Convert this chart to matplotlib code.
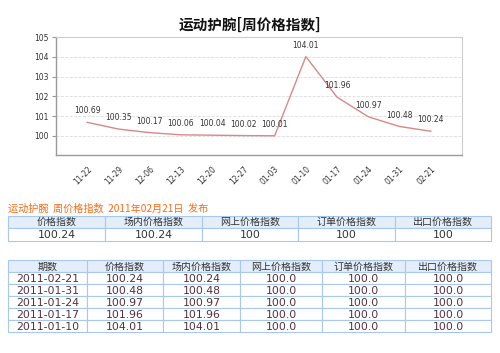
import matplotlib
matplotlib.use("Agg")
import matplotlib.pyplot as plt
from matplotlib.patches import Rectangle

plt.rcParams['font.family'] = ['Noto Sans CJK SC', 'DejaVu Sans']

title = "运动护腕[周价格指数]"
weeks = ["11-22", "11-29", "12-06", "12-13", "12-20", "12-27",
         "01-03", "01-10", "01-17", "01-24", "01-31", "02-21"]
index_values = [100.69, 100.35, 100.17, 100.06, 100.04, 100.02,
                100.01, 104.01, 101.96, 100.97, 100.48, 100.24]

notice = "运动护腕  周价格指数  2011年02月21日  发布"
summary_header = ["价格指数", "场内价格指数", "网上价格指数", "订单价格指数", "出口价格指数"]
summary_row = ["100.24", "100.24", "100", "100", "100"]

history_header = ["期数", "价格指数", "场内价格指数", "网上价格指数", "订单价格指数", "出口价格指数"]
history_dates = ["2011-02-21", "2011-01-31", "2011-01-24", "2011-01-17", "2011-01-10"]
history_price = ["100.24", "100.48", "100.97", "101.96", "104.01"]
history_onsite = ["100.24", "100.48", "100.97", "101.96", "104.01"]
history_online = ["100.0", "100.0", "100.0", "100.0", "100.0"]
history_order = ["100.0", "100.0", "100.0", "100.0", "100.0"]
history_export = ["100.0", "100.0", "100.0", "100.0", "100.0"]

W, H = 500, 353
fig = plt.figure(figsize=(W / 100, H / 100), dpi=100)
fig.patch.set_facecolor("white")

# chart area
ax = fig.add_axes([56 / W, 1 - 155 / H, 406 / W, 118 / H])
x = list(range(len(weeks)))
ax.plot(x, index_values, color="#d98888", lw=1.0)
for xi, v in zip(x, index_values):
    ax.annotate(f"{v:.2f}", (xi, v), xytext=(0, 5), textcoords="offset points",
                ha="center", va="bottom", fontsize=5.5, color="#333333",
                family="DejaVu Sans")
ax.set_xlim(-1, len(weeks))
ax.set_ylim(99.04, 105)
ax.set_yticks([100, 101, 102, 103, 104, 105])
ax.set_yticklabels([str(v) for v in range(100, 106)], family="DejaVu Sans")
ax.set_xticks(x)
ax.set_xticklabels(weeks, rotation=45, ha="right", rotation_mode="anchor",
                   family="DejaVu Sans")
ax.tick_params(axis="y", labelsize=5.5, length=3, colors="#999999", labelcolor="#333333", pad=2)
ax.tick_params(axis="x", labelsize=5.5, length=0, labelcolor="#333333", pad=7)
ax.grid(axis="y", color="#dddddd", ls="--", lw=0.6)
for side in ["top", "right"]:
    ax.spines[side].set_color("#cccccc")
for side in ["left", "bottom"]:
    ax.spines[side].set_color("#999999")
    ax.spines[side].set_linewidth(1.0)

fig.text(0.5, 1 - 25 / H, title, ha="center", va="center", fontsize=10.5,
         fontweight="bold", color="#111111")

# overlay for the tables, in pixel coords
ov = fig.add_axes([0, 0, 1, 1])
ov.set_xlim(0, W)
ov.set_ylim(H, 0)
ov.axis("off")
ov.patch.set_alpha(0)

border = "#a9c8ee"
head_bg = "#e4eefb"

ov.text(8, 209, notice, ha="left", va="center", fontsize=7.3, color="#ff6a13")


def draw_table(cols, rows, header, body, body_color):
    for i in range(len(rows) - 1):
        y0, y1 = rows[i], rows[i + 1]
        for j in range(len(cols) - 1):
            x0, x1 = cols[j], cols[j + 1]
            fc = head_bg if i == 0 else "white"
            ov.add_patch(Rectangle((x0, y0), x1 - x0, y1 - y0, facecolor=fc,
                                   edgecolor=border, lw=0.8))
            if i == 0:
                ov.text((x0 + x1) / 2, (y0 + y1) / 2 + 0.5, header[j], ha="center",
                        va="center", fontsize=7.2, color="#333333")
            else:
                ov.text((x0 + x1) / 2, (y0 + y1) / 2 + 0.5, body[i - 1][j], ha="center",
                        va="center", fontsize=7.8, color=body_color,
                        family="DejaVu Sans")


draw_table([8, 105, 202, 298, 395, 491], [216, 227.5, 241],
           summary_header, [summary_row], "#333333")

history_rows = [list(r) for r in zip(history_dates, history_price, history_onsite,
                                      history_online, history_order, history_export)]
draw_table([8, 87, 163, 240, 322, 405, 491], [260, 272, 284, 296, 308, 320, 332],
           history_header, history_rows, "#55303c")

fig.savefig("out.png", dpi=100)
